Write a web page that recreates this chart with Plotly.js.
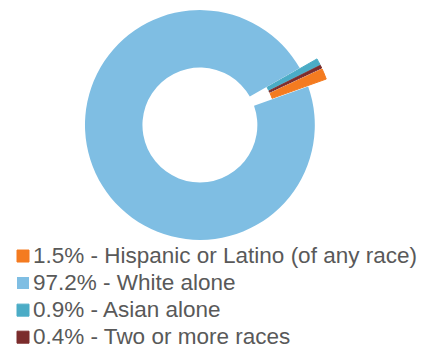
<!DOCTYPE html>
<html>
<head>
<meta charset="utf-8">
<script src="https://cdn.plot.ly/plotly-3.0.1.min.js"></script>
<style>
html,body{margin:0;padding:0;overflow:hidden;background:#fff;width:422px;height:351px;}
#chart{position:absolute;left:0;top:-20px;width:422px;height:420px;}
</style>
</head>
<body>
<div id="chart"></div>
<script>
var categories = ["Hispanic or Latino (of any race)", "White alone", "Asian alone", "Two or more races"];
var percents = [1.5, 97.2, 0.9, 0.4];
var colors = ["#F47B20", "#7FBEE3", "#4BACC6", "#7B2C2C"];
var pulls = [0.17, 0, 0.17, 0.17];

var labels = categories.map(function (c, i) {
  return '<span style="font-size:22.5px">' + percents[i].toFixed(1) + '% - ' + c + '</span>';
});

var trace = {
  type: 'pie',
  labels: labels,
  values: percents,
  hole: 0.5,
  sort: false,
  direction: 'clockwise',
  rotation: 65,
  pull: pulls,
  marker: {colors: colors, line: {width: [1, 0, 1, 1], color: colors}},
  textinfo: 'none',
  hoverinfo: 'label',
  domain: {x: [0.1551, 0.7923], y: [0.3344, 0.9751]}
};

var layout = {
  width: 422,
  height: 420,
  margin: {l: 0, r: 0, t: 0, b: 0},
  paper_bgcolor: '#ffffff',
  showlegend: true,
  legend: {
    x: 0, xanchor: 'left',
    y: 1 - 257.5 / 420, yanchor: 'top',
    font: {family: 'Liberation Sans, Arial, sans-serif', size: 18.5, color: '#595959'},
    bgcolor: 'rgba(0,0,0,0)'
  }
};

Plotly.newPlot('chart', [trace], layout, {displayModeBar: false, staticPlot: true}).then(function (gd) {
  gd.querySelectorAll('.legend g.layers').forEach(function (el) {
    var t = el.getAttribute('transform') || '';
    el.setAttribute('transform', t + ' translate(3,0)');
  });
  gd.querySelectorAll('.legend text.legendtext').forEach(function (el) {
    var t = el.getAttribute('transform') || '';
    el.setAttribute('transform', t + ' translate(-7,0)');
  });
});
</script>
</body>
</html>
